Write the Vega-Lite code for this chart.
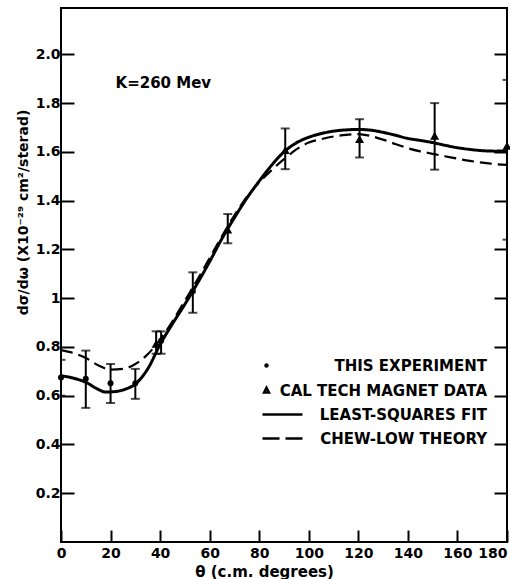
{
  "$schema": "https://vega.github.io/schema/vega-lite/v6.json",
  "width": 446,
  "height": 534,
  "autosize": {"type": "none"},
  "padding": {"left": 61, "top": 8, "right": 3, "bottom": 37},
  "background": "white",
  "config": {
    "view": {"stroke": "black", "strokeWidth": 2},
    "font": "DejaVu Sans",
    "axis": {"tickColor": "black", "labelColor": "black", "titleColor": "black", "grid": false, "domain": false}
  },
  "datasets": {
    "curves": [
      {"theta": 0, "value": 0.682, "series": "LEAST-SQUARES FIT"},
      {"theta": 5, "value": 0.672, "series": "LEAST-SQUARES FIT"},
      {"theta": 10, "value": 0.655, "series": "LEAST-SQUARES FIT"},
      {"theta": 15, "value": 0.626, "series": "LEAST-SQUARES FIT"},
      {"theta": 18, "value": 0.615, "series": "LEAST-SQUARES FIT"},
      {"theta": 22, "value": 0.617, "series": "LEAST-SQUARES FIT"},
      {"theta": 26, "value": 0.627, "series": "LEAST-SQUARES FIT"},
      {"theta": 30, "value": 0.648, "series": "LEAST-SQUARES FIT"},
      {"theta": 35, "value": 0.71, "series": "LEAST-SQUARES FIT"},
      {"theta": 40, "value": 0.81, "series": "LEAST-SQUARES FIT"},
      {"theta": 45, "value": 0.895, "series": "LEAST-SQUARES FIT"},
      {"theta": 50, "value": 0.975, "series": "LEAST-SQUARES FIT"},
      {"theta": 55, "value": 1.06, "series": "LEAST-SQUARES FIT"},
      {"theta": 60, "value": 1.15, "series": "LEAST-SQUARES FIT"},
      {"theta": 65, "value": 1.245, "series": "LEAST-SQUARES FIT"},
      {"theta": 70, "value": 1.33, "series": "LEAST-SQUARES FIT"},
      {"theta": 75, "value": 1.41, "series": "LEAST-SQUARES FIT"},
      {"theta": 80, "value": 1.48, "series": "LEAST-SQUARES FIT"},
      {"theta": 85, "value": 1.545, "series": "LEAST-SQUARES FIT"},
      {"theta": 90, "value": 1.6, "series": "LEAST-SQUARES FIT"},
      {"theta": 95, "value": 1.637, "series": "LEAST-SQUARES FIT"},
      {"theta": 100, "value": 1.66, "series": "LEAST-SQUARES FIT"},
      {"theta": 105, "value": 1.675, "series": "LEAST-SQUARES FIT"},
      {"theta": 110, "value": 1.685, "series": "LEAST-SQUARES FIT"},
      {"theta": 115, "value": 1.69, "series": "LEAST-SQUARES FIT"},
      {"theta": 120, "value": 1.692, "series": "LEAST-SQUARES FIT"},
      {"theta": 125, "value": 1.689, "series": "LEAST-SQUARES FIT"},
      {"theta": 130, "value": 1.68, "series": "LEAST-SQUARES FIT"},
      {"theta": 135, "value": 1.668, "series": "LEAST-SQUARES FIT"},
      {"theta": 140, "value": 1.655, "series": "LEAST-SQUARES FIT"},
      {"theta": 145, "value": 1.647, "series": "LEAST-SQUARES FIT"},
      {"theta": 150, "value": 1.638, "series": "LEAST-SQUARES FIT"},
      {"theta": 155, "value": 1.627, "series": "LEAST-SQUARES FIT"},
      {"theta": 160, "value": 1.617, "series": "LEAST-SQUARES FIT"},
      {"theta": 165, "value": 1.61, "series": "LEAST-SQUARES FIT"},
      {"theta": 170, "value": 1.605, "series": "LEAST-SQUARES FIT"},
      {"theta": 175, "value": 1.603, "series": "LEAST-SQUARES FIT"},
      {"theta": 180, "value": 1.604, "series": "LEAST-SQUARES FIT"},
      {"theta": 0, "value": 0.787, "series": "CHEW-LOW THEORY"},
      {"theta": 5, "value": 0.775, "series": "CHEW-LOW THEORY"},
      {"theta": 10, "value": 0.755, "series": "CHEW-LOW THEORY"},
      {"theta": 15, "value": 0.725, "series": "CHEW-LOW THEORY"},
      {"theta": 20, "value": 0.707, "series": "CHEW-LOW THEORY"},
      {"theta": 25, "value": 0.71, "series": "CHEW-LOW THEORY"},
      {"theta": 30, "value": 0.73, "series": "CHEW-LOW THEORY"},
      {"theta": 35, "value": 0.77, "series": "CHEW-LOW THEORY"},
      {"theta": 40, "value": 0.83, "series": "CHEW-LOW THEORY"},
      {"theta": 45, "value": 0.905, "series": "CHEW-LOW THEORY"},
      {"theta": 50, "value": 0.99, "series": "CHEW-LOW THEORY"},
      {"theta": 55, "value": 1.075, "series": "CHEW-LOW THEORY"},
      {"theta": 60, "value": 1.165, "series": "CHEW-LOW THEORY"},
      {"theta": 65, "value": 1.255, "series": "CHEW-LOW THEORY"},
      {"theta": 70, "value": 1.34, "series": "CHEW-LOW THEORY"},
      {"theta": 75, "value": 1.415, "series": "CHEW-LOW THEORY"},
      {"theta": 80, "value": 1.475, "series": "CHEW-LOW THEORY"},
      {"theta": 85, "value": 1.525, "series": "CHEW-LOW THEORY"},
      {"theta": 90, "value": 1.57, "series": "CHEW-LOW THEORY"},
      {"theta": 95, "value": 1.61, "series": "CHEW-LOW THEORY"},
      {"theta": 100, "value": 1.638, "series": "CHEW-LOW THEORY"},
      {"theta": 105, "value": 1.652, "series": "CHEW-LOW THEORY"},
      {"theta": 110, "value": 1.663, "series": "CHEW-LOW THEORY"},
      {"theta": 115, "value": 1.67, "series": "CHEW-LOW THEORY"},
      {"theta": 120, "value": 1.673, "series": "CHEW-LOW THEORY"},
      {"theta": 125, "value": 1.665, "series": "CHEW-LOW THEORY"},
      {"theta": 130, "value": 1.65, "series": "CHEW-LOW THEORY"},
      {"theta": 135, "value": 1.632, "series": "CHEW-LOW THEORY"},
      {"theta": 140, "value": 1.615, "series": "CHEW-LOW THEORY"},
      {"theta": 145, "value": 1.602, "series": "CHEW-LOW THEORY"},
      {"theta": 150, "value": 1.592, "series": "CHEW-LOW THEORY"},
      {"theta": 155, "value": 1.582, "series": "CHEW-LOW THEORY"},
      {"theta": 160, "value": 1.572, "series": "CHEW-LOW THEORY"},
      {"theta": 165, "value": 1.563, "series": "CHEW-LOW THEORY"},
      {"theta": 170, "value": 1.556, "series": "CHEW-LOW THEORY"},
      {"theta": 175, "value": 1.55, "series": "CHEW-LOW THEORY"},
      {"theta": 180, "value": 1.547, "series": "CHEW-LOW THEORY"}
    ],
    "points": [
      {"theta": 0, "y": 0.675, "lo": 0.6, "hi": 0.747, "series": "THIS EXPERIMENT"},
      {"theta": 10, "y": 0.669, "lo": 0.55, "hi": 0.785, "series": "THIS EXPERIMENT"},
      {"theta": 20, "y": 0.651, "lo": 0.57, "hi": 0.73, "series": "THIS EXPERIMENT"},
      {"theta": 30, "y": 0.651, "lo": 0.587, "hi": 0.71, "series": "THIS EXPERIMENT"},
      {"theta": 40.4, "y": 0.825, "lo": 0.772, "hi": 0.864, "series": "THIS EXPERIMENT"},
      {"theta": 53.2, "y": 1.028, "lo": 0.94, "hi": 1.106, "series": "THIS EXPERIMENT"},
      {"theta": 38.4, "y": 0.813, "lo": 0.772, "hi": 0.864, "series": "CAL TECH MAGNET DATA"},
      {"theta": 67.3, "y": 1.281, "lo": 1.225, "hi": 1.345, "series": "CAL TECH MAGNET DATA"},
      {"theta": 90.5, "y": 1.607, "lo": 1.529, "hi": 1.696, "series": "CAL TECH MAGNET DATA"},
      {"theta": 120.5, "y": 1.652, "lo": 1.577, "hi": 1.734, "series": "CAL TECH MAGNET DATA"},
      {"theta": 150.8, "y": 1.666, "lo": 1.527, "hi": 1.8, "series": "CAL TECH MAGNET DATA"},
      {"theta": 180, "y": 1.625, "lo": 1.24, "hi": 1.895, "series": "CAL TECH MAGNET DATA"}
    ]
  },
  "resolve": {"axis": {"y": "independent"}},
  "layer": [
    {
      "data": {"name": "curves"},
      "mark": {"type": "line", "interpolate": "monotone", "color": "black"},
      "encoding": {
        "x": {
          "field": "theta", "type": "quantitative",
          "scale": {"domain": [0, 180], "nice": false},
          "axis": {
            "values": [0, 20, 40, 60, 80, 100, 120, 140, 160, 180],
            "tickSize": -12, "tickWidth": 2, "labelPadding": 16,
            "labelFontSize": 14, "labelFont": "DejaVu Sans", "labelFontWeight": "bold",
            "labelAlign": {"condition": {"test": "datum.value == 180", "value": "right"}, "value": "center"},
            "title": "θ (c.m. degrees)", "titleFontSize": 15, "titleFontWeight": "bold",
            "titleX": 203, "titleY": 29, "titleBaseline": "middle", "titleAlign": "center"
          }
        },
        "y": {
          "field": "value", "type": "quantitative",
          "scale": {"domain": [0, 2.19], "nice": false, "zero": false},
          "axis": {
            "values": [0.2, 0.4, 0.6, 0.8, 1, 1.2, 1.4, 1.6, 1.8, 2],
            "tickSize": -13, "tickWidth": 2, "labelPadding": 14,
            "labelFontSize": 14, "labelFont": "DejaVu Sans", "labelFontWeight": "bold",
            "labelExpr": "datum.value == 1 ? '1' : format(datum.value, '.1f')",
            "title": "dσ/dω  (X10⁻²⁹ cm²/sterad)", "titleFontSize": 14, "titleFontWeight": "bold",
            "titleX": -38, "titleY": 204, "titleAngle": 270, "titleBaseline": "middle", "titleAlign": "center"
          }
        },
        "detail": {"field": "series", "type": "nominal"},
        "strokeDash": {
          "field": "series", "type": "nominal",
          "scale": {"domain": ["LEAST-SQUARES FIT", "CHEW-LOW THEORY"], "range": [[1, 0], [12, 6]]},
          "legend": null
        },
        "strokeWidth": {
          "field": "series", "type": "nominal",
          "scale": {"domain": ["LEAST-SQUARES FIT", "CHEW-LOW THEORY"], "range": [3, 2.2]},
          "legend": null
        }
      }
    },
    {
      "data": {"name": "points"},
      "mark": {"type": "rule", "color": "black", "strokeWidth": 2},
      "encoding": {
        "x": {"field": "theta", "type": "quantitative"},
        "y": {
          "field": "lo", "type": "quantitative",
          "axis": {
            "orient": "right", "values": [0.2, 0.4, 0.6, 0.8, 1, 1.2, 1.4, 1.6, 1.8, 2],
            "tickSize": -13, "tickWidth": 2, "labels": false, "title": null
          }
        },
        "y2": {"field": "hi"}
      }
    },
    {
      "data": {"name": "points"},
      "transform": [{"fold": ["lo", "hi"], "as": ["end", "bound"]}],
      "mark": {"type": "tick", "orient": "horizontal", "color": "black", "size": 9, "thickness": 2, "clip": true},
      "encoding": {
        "x": {"field": "theta", "type": "quantitative"},
        "y": {"field": "bound", "type": "quantitative", "axis": null}
      }
    },
    {
      "data": {"name": "points"},
      "transform": [{"filter": "datum.series == 'THIS EXPERIMENT'"}],
      "mark": {"type": "point", "shape": "circle", "filled": true, "color": "black", "size": 36, "opacity": 1},
      "encoding": {
        "x": {"field": "theta", "type": "quantitative"},
        "y": {"field": "y", "type": "quantitative", "axis": null}
      }
    },
    {
      "data": {"name": "points"},
      "transform": [{"filter": "datum.series == 'CAL TECH MAGNET DATA'"}],
      "mark": {"type": "point", "shape": "triangle-up", "filled": true, "color": "black", "size": 81, "opacity": 1},
      "encoding": {
        "x": {"field": "theta", "type": "quantitative"},
        "y": {"field": "y", "type": "quantitative", "axis": null}
      }
    },
    {
      "data": {"name": "points"},
      "transform": [{"filter": "false"}],
      "mark": {"type": "point", "filled": false, "color": "black", "strokeWidth": 2.5, "size": 100, "opacity": 1},
      "encoding": {
        "shape": {
          "field": "series", "type": "nominal",
          "scale": {
            "domain": ["THIS EXPERIMENT", "CAL TECH MAGNET DATA", "LEAST-SQUARES FIT", "CHEW-LOW THEORY"],
            "range": [
              "M-3,0A0.2,0.2 0 1,1 -3.4,0A0.2,0.2 0 1,1 -3,0Z",
              "M-3.2,-0.55L-2.72,0.38L-3.68,0.38Z",
              "M-4,0L4,0",
              "M-4,0L-0.6,0M0.6,0L4,0"
            ]
          },
          "legend": {
            "title": null, "orient": "none", "legendX": 214, "legendY": 350,
            "labelAlign": "right", "labelOffset": 197, "labelFontSize": 15, "labelFontWeight": "bold",
            "labelFont": "DejaVu Sans", "labelColor": "black", "labelLimit": 400,
            "symbolSize": 100, "symbolStrokeWidth": 2.5, "symbolStrokeColor": "black",
            "symbolOpacity": 1, "rowPadding": 8, "padding": 0
          }
        }
      }
    },
    {
      "data": {"values": [{}]},
      "mark": {"type": "text", "text": "K=260 Mev", "align": "left", "baseline": "middle", "fontSize": 15, "font": "DejaVu Sans", "fontWeight": "bold", "color": "black"},
      "encoding": {
        "x": {"datum": 22, "type": "quantitative"},
        "y": {"datum": 1.883, "type": "quantitative", "axis": null}
      }
    }
  ]
}
